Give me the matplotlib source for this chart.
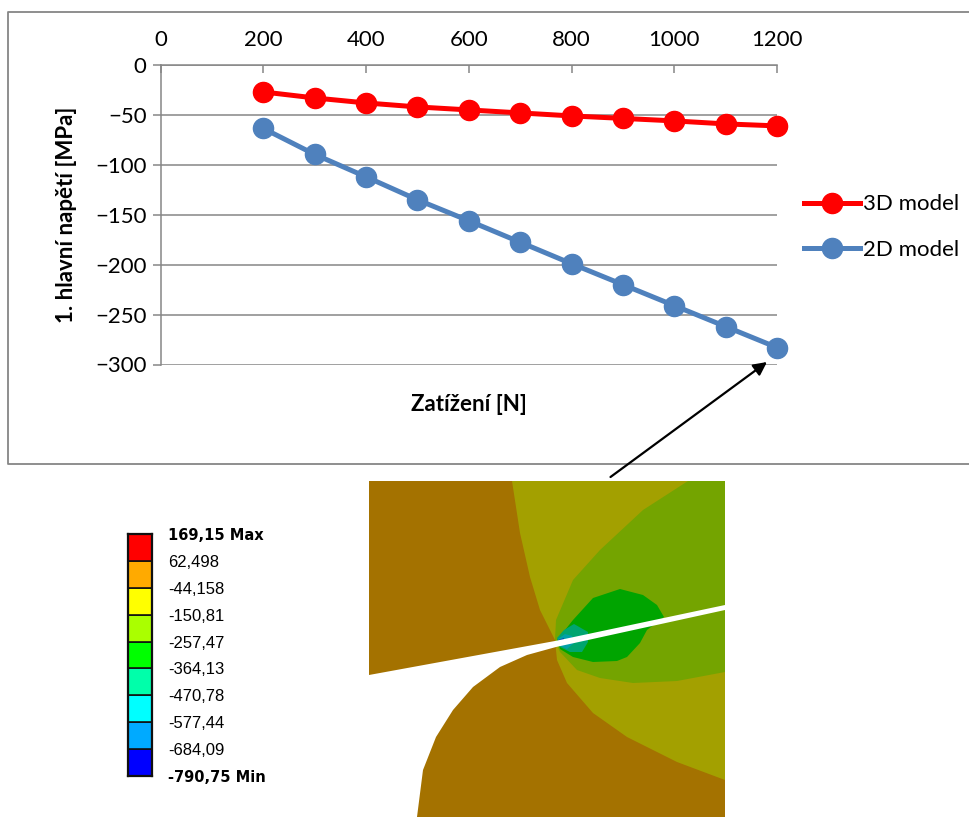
"""Stress vs load chart with the FE contour detail and its colour scale."""
import matplotlib
matplotlib.use("Agg")
import matplotlib.pyplot as plt
from matplotlib.patches import Polygon, Rectangle

W, H = 969, 817
GRAY = "#868686"

# chart data
load = [200, 300, 400, 500, 600, 700, 800, 900, 1000, 1100, 1200]
stress_3d = [-27, -33, -38, -42, -45, -48, -51, -53.5, -56, -59, -61]
stress_2d = [-63.5, -89.5, -112, -135, -156, -177.5, -199, -220, -241, -262, -283]
x_ticks = [0, 200, 400, 600, 800, 1000, 1200]
y_ticks = [0, -50, -100, -150, -200, -250, -300]

# colour scale, bottom to top
scale_labels = ["-790,75 Min", "-684,09", "-577,44", "-470,78", "-364,13",
                "-257,47", "-150,81", "-44,158", "62,498", "169,15 Max"]
scale_colors = ["#0000FF", "#00AAFF", "#00FFFF", "#00FFAA", "#00FF00",
                "#AAFF00", "#FFFF00", "#FFAA00", "#FF0000"]

# contour outlines of the FE picture, in its own pixels
olive_zone = [(143, 0), (151, 52), (161, 96), (171, 129), (186, 159), (188, 179), (198, 202),
              (224, 232), (258, 256), (308, 281), (356, 299), (356, 0)]
green_zone = [(319, 0), (274, 29), (231, 69), (204, 99), (187, 139), (186, 159), (191, 171),
              (208, 189), (231, 197), (264, 202), (308, 200), (356, 191), (356, 0)]
dark_green_zone = [(188, 159), (204, 139), (224, 117), (251, 108), (274, 114), (288, 124),
                   (295, 136), (278, 149), (271, 162), (258, 176), (248, 180), (224, 181),
                   (204, 176), (191, 168)]
teal_zone = [(188, 157), (195, 149), (205, 143), (219, 151), (219, 161), (213, 171),
             (201, 171), (191, 166)]
cyan_zone = [(189, 158), (196, 153), (203, 155), (205, 162), (198, 168), (191, 165)]
blue_zone = [(189, 159), (195, 157), (195, 164), (191, 163)]
crack = [(0, 194), (186, 160), (356, 124), (356, 129), (187, 166), (158, 174), (131, 186),
         (104, 206), (84, 229), (67, 256), (54, 289), (48, 336), (0, 336)]


def draw_chart(fig):
    ax = fig.add_axes([160.5 / W, 1 - 364.5 / H, (777 - 160.5) / W, 299.5 / H])
    ax.plot(load, stress_3d, color="#FF0000", marker="o", lw=3.6, ms=14.5, label="3D model",
            clip_on=False, zorder=3)
    ax.plot(load, stress_2d, color="#4F81BD", marker="o", lw=3.6, ms=14.5, label="2D model",
            clip_on=False, zorder=3)
    ax.set_xlim(0, 1200)
    ax.set_ylim(-300, 0)
    ax.set_xticks(x_ticks)
    ax.set_yticks(y_ticks)
    ax.xaxis.tick_top()
    ax.xaxis.set_label_position("bottom")
    ax.tick_params(axis="x", direction="in", length=6, width=1.1, color=GRAY, labelsize=16, pad=11)
    ax.tick_params(axis="y", direction="out", length=6, width=1.1, color=GRAY, labelsize=16, pad=4)
    ax.grid(axis="y", color=GRAY, lw=1.1)
    ax.set_axisbelow(True)
    for side in ("right", "bottom"):
        ax.spines[side].set_visible(False)
    for side in ("left", "top"):
        ax.spines[side].set_color(GRAY)
        ax.spines[side].set_linewidth(1.1)
    ax.set_xlabel("Zatížení [N]", fontsize=16, fontweight="bold", labelpad=21)
    ax.set_ylabel("1. hlavní napětí [MPa]", fontsize=16, fontweight="bold", labelpad=13)
    ax.legend(loc="upper left", bbox_to_anchor=(800 / W, 1 - 190 / H), bbox_transform=fig.transFigure,
              frameon=False, fontsize=16, handlelength=2.5, handletextpad=0.15, labelspacing=1.15,
              borderaxespad=0, borderpad=0.2)


def draw_scale(fig):
    ax = fig.add_axes([127.7 / W, 1 - 776 / H, 24 / W, 242 / H])
    for i, color in enumerate(scale_colors):
        ax.bar(0, 1, bottom=i, width=1, color=color, edgecolor="#101010", linewidth=1.2)
    ax.set_xlim(-0.5, 0.5)
    ax.set_ylim(0, len(scale_colors))
    ax.set_xticks([])
    ax.yaxis.tick_right()
    ax.set_yticks(range(len(scale_labels)))
    ax.set_yticklabels(scale_labels, family=["Liberation Sans Narrow", "Liberation Sans"], fontsize=12)
    ax.tick_params(axis="y", length=0, pad=12, color="#222222")
    for i in (0, len(scale_labels) - 1):
        ax.get_yticklabels()[i].set_fontweight("bold")
        ax.get_yticklabels()[i].set_family("DejaVu Sans")
        ax.get_yticklabels()[i].set_fontsize(10.5)
    for spine in ax.spines.values():
        spine.set_color("#101010")
        spine.set_linewidth(1.6)


def draw_detail(fig):
    ax = fig.add_axes([369 / W, 0, 356 / W, 336 / H])
    ax.set_xlim(0, 356)
    ax.set_ylim(336, 0)
    ax.axis("off")
    ax.add_patch(Rectangle((0, 0), 356, 336, color="#A47200", lw=0))
    zones = [(olive_zone, "#A3A000"), (green_zone, "#74A400"), (dark_green_zone, "#00A400"),
             (teal_zone, "#00A570"), (cyan_zone, "#00A0A8"), (blue_zone, "#0040B0"), (crack, "#FFFFFF")]
    for points, color in zones:
        ax.add_patch(Polygon(points, closed=True, color=color, lw=0))


def draw_overlay(fig):
    ax = fig.add_axes([0, 0, 1, 1], zorder=5)
    ax.set_xlim(0, W)
    ax.set_ylim(H, 0)
    ax.axis("off")
    ax.plot([W, 8.5, 8.5, W], [12, 12, 464, 464], color=GRAY, lw=1.3)
    ax.annotate("", xy=(767, 362), xytext=(610.5, 477),
                arrowprops=dict(arrowstyle="-|>,head_length=0.8,head_width=0.4", color="black",
                                lw=1.6, shrinkA=0, shrinkB=0))


if __name__ == "__main__":
    plt.rcParams["font.family"] = ["Lato", "DejaVu Sans"]
    fig = plt.figure(figsize=(W / 100, H / 100), dpi=100)
    draw_chart(fig)
    draw_scale(fig)
    draw_detail(fig)
    draw_overlay(fig)
    fig.savefig("out.png", dpi=100)
    plt.close(fig)
